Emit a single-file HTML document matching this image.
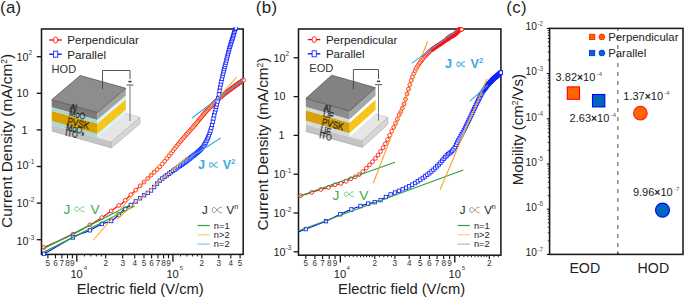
<!DOCTYPE html><html><head><meta charset="utf-8"><style>html,body{margin:0;padding:0;background:#fff;overflow:hidden}svg{display:block;font-family:"Liberation Sans",sans-serif}</style></head><body>
<svg width="685" height="300" viewBox="0 0 685 300" font-family="Liberation Sans, sans-serif">
<rect width="685" height="300" fill="#fff"/>
<defs><clipPath id="ca"><rect x="39.5" y="27" width="206" height="229.5"/></clipPath><clipPath id="cb"><rect x="296.5" y="27" width="206.5" height="230"/></clipPath></defs>
<text x="0" y="12.8" font-size="16.8" letter-spacing="0.35" fill="#231f20">(a)</text>
<text x="255.8" y="12.8" font-size="16.8" letter-spacing="0.35" fill="#231f20">(b)</text>
<text x="506.3" y="12.8" font-size="16.8" letter-spacing="0.35" fill="#231f20">(c)</text>
<rect x="41.5" y="29.0" width="201.7" height="225.4" fill="none" stroke="#1a1a1a" stroke-width="1.55"/>
<g clip-path="url(#ca)">
<polyline points="43.6,247.6 46.0,246.5 49.2,245.1 53.0,243.4 57.3,241.5 61.6,239.5 65.9,237.6 69.7,235.8 73.0,234.2 75.7,232.8 78.2,231.5 80.4,230.3 82.5,229.2 84.4,228.1 86.2,227.0 87.9,226.0 89.6,225.0 91.2,224.1 92.8,223.2 94.2,222.4 95.5,221.6 96.8,220.8 98.0,220.1 99.3,219.3 100.5,218.5 101.7,217.7 103.0,216.9 104.2,216.0 105.3,215.2 106.5,214.4 107.6,213.6 108.7,212.8 109.8,212.0 110.9,211.2 112.0,210.4 113.1,209.6 114.2,208.8 115.2,208.0 116.2,207.3 117.2,206.6 118.0,206.0 118.7,205.5 119.3,205.1 119.9,204.8 120.3,204.5 120.8,204.3 121.3,203.9 121.9,203.5 122.5,203.0 123.2,202.3 124.0,201.6 124.9,200.7 125.7,199.8 126.6,198.9 127.5,197.9 128.4,197.0 129.2,196.2 130.0,195.4 130.9,194.6 131.8,193.7 132.7,192.9 133.5,192.1 134.3,191.4 135.1,190.7 135.8,190.0 136.4,189.4 136.9,189.0 137.3,188.6 137.7,188.2 138.1,187.8 138.6,187.4 139.2,186.8 140.0,186.0 141.0,185.1 142.1,184.0 143.3,182.7 144.6,181.5 146.0,180.1 147.4,178.8 148.7,177.5 150.0,176.2 151.3,175.0 152.6,173.7 153.9,172.4 155.2,171.2 156.5,169.9 157.8,168.7 158.9,167.6 160.0,166.5 160.9,165.6 161.6,164.8 162.2,164.1 162.8,163.5 163.3,162.8 164.0,161.9 164.9,160.9 166.0,159.5 167.4,157.8 168.9,155.9 170.6,153.7 172.4,151.4 174.3,149.0 176.2,146.6 178.1,144.2 180.0,142.0 181.9,139.8 183.8,137.6 185.8,135.3 187.8,133.1 189.7,130.9 191.6,128.7 193.4,126.7 195.0,124.8 196.5,123.0 198.0,121.3 199.3,119.6 200.6,118.0 201.8,116.5 203.0,115.1 204.0,113.8 205.0,112.7 205.9,111.7 206.6,110.9 207.2,110.3 207.8,109.7 208.3,109.2 208.9,108.7 209.4,108.1 210.0,107.5 210.6,106.8 211.1,106.2 211.7,105.6 212.2,105.0 212.8,104.3 213.4,103.6 214.1,102.8 215.0,102.0 216.0,101.1 217.1,100.1 218.4,99.0 219.7,97.9 221.0,96.7 222.4,95.6 223.7,94.5 225.0,93.5 226.3,92.5 227.5,91.5 228.8,90.5 230.1,89.6 231.4,88.7 232.6,87.7 233.8,86.9 235.0,86.0 236.2,85.1 237.4,84.3 238.7,83.4 239.9,82.5 241.0,81.7 242.0,81.0 242.9,80.5 243.5,80.0" fill="none" stroke="#ff0000" stroke-width="1.2"/>
<polyline points="43.6,254.2 46.0,252.8 49.2,251.0 53.0,248.7 57.3,246.2 61.6,243.7 65.9,241.3 69.7,239.1 73.0,237.4 75.7,236.1 78.2,234.9 80.4,234.0 82.4,233.3 84.3,232.6 86.1,231.9 87.8,231.2 89.6,230.4 91.3,229.6 93.0,228.7 94.5,227.8 96.0,227.0 97.5,226.2 98.9,225.4 100.3,224.7 101.7,224.0 103.1,223.5 104.4,223.1 105.7,222.7 107.0,222.4 108.3,222.1 109.5,221.7 110.8,221.2 112.1,220.5 113.4,219.6 114.7,218.5 116.1,217.2 117.4,215.9 118.8,214.6 120.0,213.3 121.3,212.1 122.5,211.0 123.6,210.1 124.8,209.2 125.8,208.4 126.9,207.7 127.9,207.0 128.9,206.3 129.8,205.7 130.8,205.0 131.7,204.3 132.6,203.7 133.5,203.1 134.4,202.5 135.2,201.9 136.1,201.3 136.9,200.6 137.8,200.0 138.7,199.3 139.6,198.6 140.5,197.9 141.5,197.2 142.4,196.5 143.3,195.8 144.2,195.1 145.0,194.5 145.8,194.0 146.5,193.5 147.2,193.2 147.9,192.8 148.6,192.4 149.3,191.9 150.1,191.3 151.0,190.5 152.0,189.5 153.0,188.4 154.1,187.1 155.2,185.7 156.4,184.3 157.6,183.0 158.8,181.7 160.0,180.5 161.2,179.5 162.3,178.5 163.5,177.6 164.6,176.8 165.8,175.9 167.1,175.0 168.5,174.1 170.0,173.0 171.7,171.8 173.6,170.4 175.6,169.0 177.7,167.5 179.8,166.1 181.7,164.7 183.5,163.4 185.0,162.3 186.2,161.4 187.3,160.6 188.1,159.9 188.9,159.3 189.6,158.8 190.2,158.2 190.9,157.6 191.7,157.0 192.5,156.3 193.4,155.6 194.3,155.0 195.2,154.3 196.0,153.6 196.8,152.9 197.6,152.3 198.3,151.7 198.9,151.1 199.5,150.6 200.0,150.1 200.5,149.6 201.0,149.1 201.5,148.7 201.9,148.2 202.3,147.7 202.7,147.2 203.1,146.7 203.4,146.3 203.7,145.8 204.0,145.3 204.4,144.8 204.7,144.3 205.0,143.7 205.3,143.1 205.7,142.4 206.0,141.8 206.4,141.1 206.7,140.4 207.1,139.7 207.4,139.0 207.7,138.3 208.0,137.6 208.2,137.0 208.5,136.4 208.7,135.7 209.0,135.1 209.2,134.4 209.5,133.7 209.7,133.0 209.9,132.3 210.2,131.6 210.4,130.9 210.6,130.2 210.9,129.5 211.1,128.6 211.4,127.5 211.7,126.3 212.1,124.8 212.4,123.1 212.9,121.2 213.3,119.2 213.7,117.2 214.2,115.3 214.6,113.4 215.0,111.7 215.4,110.2 215.7,108.8 216.1,107.5 216.4,106.2 216.7,105.0 217.1,103.7 217.4,102.4 217.7,101.0 218.0,99.5 218.3,97.9 218.6,96.3 218.8,94.7 219.1,93.0 219.4,91.4 219.7,89.7 220.0,88.0 220.3,86.3 220.7,84.5 221.1,82.7 221.5,80.9 221.8,79.1 222.2,77.4 222.6,75.7 223.0,74.0 223.4,72.4 223.8,70.9 224.1,69.4 224.5,67.9 224.9,66.4 225.2,65.0 225.6,63.5 226.0,62.0 226.4,60.5 226.8,59.0 227.1,57.4 227.5,55.9 227.9,54.4 228.2,52.9 228.6,51.4 229.0,50.0 229.4,48.7 229.8,47.4 230.1,46.1 230.5,44.9 230.9,43.7 231.2,42.5 231.6,41.2 232.0,40.0 232.4,38.7 232.8,37.3 233.2,35.9 233.7,34.5 234.1,33.2 234.4,31.9 234.7,30.9 235.0,30.0 235.2,29.4 235.3,28.9 235.4,28.6 235.5,28.4 235.5,28.3 235.5,28.2 235.6,28.1 235.6,28.0" fill="none" stroke="#0a14ff" stroke-width="1.2"/>
<g fill="#fff" stroke="#ff1010" stroke-width="0.85"><circle cx="44.03" cy="247.41" r="1.9"/><circle cx="72.96" cy="234.22" r="1.9"/><circle cx="89.88" cy="224.84" r="1.9"/><circle cx="101.88" cy="217.59" r="1.9"/><circle cx="111.20" cy="210.99" r="1.9"/><circle cx="118.81" cy="205.46" r="1.9"/><circle cx="125.24" cy="200.30" r="1.9"/><circle cx="130.81" cy="194.65" r="1.9"/><circle cx="135.73" cy="190.07" r="1.9"/><circle cx="140.13" cy="185.88" r="1.9"/><circle cx="144.10" cy="181.98" r="1.9"/><circle cx="147.74" cy="178.41" r="1.9"/><circle cx="151.08" cy="175.16" r="1.9"/><circle cx="154.17" cy="172.20" r="1.9"/><circle cx="157.05" cy="169.44" r="1.9"/><circle cx="159.74" cy="166.76" r="1.9"/><circle cx="162.27" cy="164.04" r="1.9"/><circle cx="164.66" cy="161.15" r="1.9"/><circle cx="166.91" cy="158.37" r="1.9"/><circle cx="169.06" cy="155.68" r="1.9"/><circle cx="171.09" cy="153.09" r="1.9"/><circle cx="173.03" cy="150.63" r="1.9"/><circle cx="174.89" cy="148.30" r="1.9"/><circle cx="176.66" cy="146.08" r="1.9"/><circle cx="178.37" cy="143.98" r="1.9"/><circle cx="180.01" cy="141.99" r="1.9"/><circle cx="181.58" cy="140.13" r="1.9"/><circle cx="183.10" cy="138.37" r="1.9"/><circle cx="184.56" cy="136.68" r="1.9"/><circle cx="185.98" cy="135.07" r="1.9"/><circle cx="187.35" cy="133.52" r="1.9"/><circle cx="188.67" cy="132.02" r="1.9"/><circle cx="189.96" cy="130.57" r="1.9"/><circle cx="191.20" cy="129.16" r="1.9"/><circle cx="192.41" cy="127.78" r="1.9"/><circle cx="193.59" cy="126.44" r="1.9"/><circle cx="194.73" cy="125.11" r="1.9"/><circle cx="195.84" cy="123.80" r="1.9"/><circle cx="196.93" cy="122.51" r="1.9"/><circle cx="197.98" cy="121.24" r="1.9"/><circle cx="199.02" cy="119.98" r="1.9"/><circle cx="200.02" cy="118.74" r="1.9"/><circle cx="201.00" cy="117.53" r="1.9"/><circle cx="201.96" cy="116.35" r="1.9"/><circle cx="202.90" cy="115.20" r="1.9"/><circle cx="203.82" cy="114.10" r="1.9"/><circle cx="204.72" cy="113.03" r="1.9"/><circle cx="205.59" cy="112.03" r="1.9"/><circle cx="206.45" cy="111.08" r="1.9"/><circle cx="207.30" cy="110.20" r="1.9"/><circle cx="208.12" cy="109.38" r="1.9"/><circle cx="208.93" cy="108.59" r="1.9"/><circle cx="209.73" cy="107.78" r="1.9"/><circle cx="210.51" cy="106.94" r="1.9"/><circle cx="211.28" cy="106.05" r="1.9"/><circle cx="212.03" cy="105.15" r="1.9"/><circle cx="212.77" cy="104.29" r="1.9"/><circle cx="213.49" cy="103.50" r="1.9"/><circle cx="214.21" cy="102.77" r="1.9"/><circle cx="214.91" cy="102.09" r="1.9"/><circle cx="215.60" cy="101.45" r="1.9"/><circle cx="216.28" cy="100.84" r="1.9"/><circle cx="216.94" cy="100.25" r="1.9"/><circle cx="217.60" cy="99.67" r="1.9"/><circle cx="218.25" cy="99.11" r="1.9"/><circle cx="218.88" cy="98.56" r="1.9"/><circle cx="219.51" cy="98.02" r="1.9"/><circle cx="220.13" cy="97.50" r="1.9"/><circle cx="220.74" cy="96.99" r="1.9"/><circle cx="221.34" cy="96.49" r="1.9"/><circle cx="221.93" cy="96.00" r="1.9"/><circle cx="222.52" cy="95.52" r="1.9"/><circle cx="223.09" cy="95.05" r="1.9"/><circle cx="223.66" cy="94.58" r="1.9"/><circle cx="224.22" cy="94.13" r="1.9"/><circle cx="224.77" cy="93.68" r="1.9"/><circle cx="225.32" cy="93.25" r="1.9"/><circle cx="225.86" cy="92.82" r="1.9"/><circle cx="226.39" cy="92.41" r="1.9"/><circle cx="226.91" cy="92.00" r="1.9"/><circle cx="227.43" cy="91.60" r="1.9"/><circle cx="227.94" cy="91.21" r="1.9"/><circle cx="228.45" cy="90.83" r="1.9"/><circle cx="228.95" cy="90.45" r="1.9"/><circle cx="229.44" cy="90.08" r="1.9"/><circle cx="229.93" cy="89.71" r="1.9"/><circle cx="230.41" cy="89.36" r="1.9"/><circle cx="230.89" cy="89.00" r="1.9"/><circle cx="231.36" cy="88.66" r="1.9"/><circle cx="231.83" cy="88.31" r="1.9"/><circle cx="232.29" cy="87.98" r="1.9"/><circle cx="232.75" cy="87.64" r="1.9"/><circle cx="233.20" cy="87.31" r="1.9"/><circle cx="233.64" cy="86.99" r="1.9"/><circle cx="234.09" cy="86.67" r="1.9"/><circle cx="234.52" cy="86.35" r="1.9"/><circle cx="234.96" cy="86.03" r="1.9"/><circle cx="235.38" cy="85.72" r="1.9"/><circle cx="235.81" cy="85.42" r="1.9"/><circle cx="236.23" cy="85.11" r="1.9"/><circle cx="236.64" cy="84.82" r="1.9"/><circle cx="237.05" cy="84.52" r="1.9"/><circle cx="237.46" cy="84.23" r="1.9"/><circle cx="237.86" cy="83.95" r="1.9"/><circle cx="238.26" cy="83.66" r="1.9"/><circle cx="238.66" cy="83.39" r="1.9"/><circle cx="239.05" cy="83.11" r="1.9"/><circle cx="239.44" cy="82.84" r="1.9"/><circle cx="239.82" cy="82.57" r="1.9"/><circle cx="240.20" cy="82.30" r="1.9"/><circle cx="240.58" cy="82.04" r="1.9"/><circle cx="240.96" cy="81.78" r="1.9"/><circle cx="241.33" cy="81.52" r="1.9"/><circle cx="241.70" cy="81.26" r="1.9"/><circle cx="242.06" cy="81.01" r="1.9"/><circle cx="242.42" cy="80.75" r="1.9"/><circle cx="242.78" cy="80.51" r="1.9"/><circle cx="243.13" cy="80.26" r="1.9"/><circle cx="243.49" cy="80.01" r="1.9"/><circle cx="243.84" cy="80.00" r="1.9"/></g>
<g fill="#fff" stroke="#1020ff" stroke-width="0.85"><rect x="42.38" y="252.20" width="3.3" height="3.5"/><rect x="71.31" y="235.67" width="3.3" height="3.5"/><rect x="88.23" y="228.51" width="3.3" height="3.5"/><rect x="100.23" y="222.18" width="3.3" height="3.5"/><rect x="109.55" y="219.24" width="3.3" height="3.5"/><rect x="117.16" y="212.77" width="3.3" height="3.5"/><rect x="123.59" y="207.12" width="3.3" height="3.5"/><rect x="129.16" y="203.24" width="3.3" height="3.5"/><rect x="134.08" y="199.75" width="3.3" height="3.5"/><rect x="138.48" y="196.48" width="3.3" height="3.5"/><rect x="142.45" y="193.41" width="3.3" height="3.5"/><rect x="146.09" y="191.11" width="3.3" height="3.5"/><rect x="149.43" y="188.67" width="3.3" height="3.5"/><rect x="152.52" y="185.26" width="3.3" height="3.5"/><rect x="155.40" y="181.86" width="3.3" height="3.5"/><rect x="158.09" y="179.00" width="3.3" height="3.5"/><rect x="160.62" y="176.81" width="3.3" height="3.5"/><rect x="163.01" y="175.02" width="3.3" height="3.5"/><rect x="165.26" y="173.44" width="3.3" height="3.5"/><rect x="167.41" y="171.93" width="3.3" height="3.5"/><rect x="169.44" y="170.46" width="3.3" height="3.5"/><rect x="171.38" y="169.07" width="3.3" height="3.5"/><rect x="173.24" y="167.76" width="3.3" height="3.5"/><rect x="175.01" y="166.50" width="3.3" height="3.5"/><rect x="176.72" y="165.29" width="3.3" height="3.5"/><rect x="178.36" y="164.14" width="3.3" height="3.5"/><rect x="179.93" y="163.02" width="3.3" height="3.5"/><rect x="181.45" y="161.93" width="3.3" height="3.5"/><rect x="182.91" y="160.87" width="3.3" height="3.5"/><rect x="184.33" y="159.82" width="3.3" height="3.5"/><rect x="185.70" y="158.78" width="3.3" height="3.5"/><rect x="187.02" y="157.73" width="3.3" height="3.5"/><rect x="188.31" y="156.67" width="3.3" height="3.5"/><rect x="189.55" y="155.65" width="3.3" height="3.5"/><rect x="190.76" y="154.69" width="3.3" height="3.5"/><rect x="191.94" y="153.76" width="3.3" height="3.5"/><rect x="193.08" y="152.86" width="3.3" height="3.5"/><rect x="194.19" y="151.98" width="3.3" height="3.5"/><rect x="195.28" y="151.11" width="3.3" height="3.5"/><rect x="196.33" y="150.22" width="3.3" height="3.5"/><rect x="197.37" y="149.31" width="3.3" height="3.5"/><rect x="198.37" y="148.38" width="3.3" height="3.5"/><rect x="199.35" y="147.40" width="3.3" height="3.5"/><rect x="200.31" y="146.34" width="3.3" height="3.5"/><rect x="201.25" y="145.20" width="3.3" height="3.5"/><rect x="202.17" y="143.90" width="3.3" height="3.5"/><rect x="203.07" y="142.44" width="3.3" height="3.5"/><rect x="203.94" y="140.88" width="3.3" height="3.5"/><rect x="204.80" y="139.21" width="3.3" height="3.5"/><rect x="205.65" y="137.44" width="3.3" height="3.5"/><rect x="206.47" y="135.55" width="3.3" height="3.5"/><rect x="207.28" y="133.46" width="3.3" height="3.5"/><rect x="208.08" y="131.16" width="3.3" height="3.5"/><rect x="208.86" y="128.82" width="3.3" height="3.5"/><rect x="209.63" y="126.19" width="3.3" height="3.5"/><rect x="210.38" y="123.19" width="3.3" height="3.5"/><rect x="211.12" y="119.94" width="3.3" height="3.5"/><rect x="211.84" y="116.66" width="3.3" height="3.5"/><rect x="212.56" y="113.43" width="3.3" height="3.5"/><rect x="213.26" y="110.35" width="3.3" height="3.5"/><rect x="213.95" y="107.56" width="3.3" height="3.5"/><rect x="214.63" y="105.01" width="3.3" height="3.5"/><rect x="215.29" y="102.48" width="3.3" height="3.5"/><rect x="215.95" y="99.70" width="3.3" height="3.5"/><rect x="216.60" y="96.40" width="3.3" height="3.5"/><rect x="217.23" y="92.63" width="3.3" height="3.5"/><rect x="217.86" y="88.90" width="3.3" height="3.5"/><rect x="218.48" y="85.59" width="3.3" height="3.5"/><rect x="219.09" y="82.59" width="3.3" height="3.5"/><rect x="219.69" y="79.73" width="3.3" height="3.5"/><rect x="220.28" y="77.00" width="3.3" height="3.5"/><rect x="220.87" y="74.37" width="3.3" height="3.5"/><rect x="221.44" y="71.86" width="3.3" height="3.5"/><rect x="222.01" y="69.48" width="3.3" height="3.5"/><rect x="222.57" y="67.23" width="3.3" height="3.5"/><rect x="223.12" y="65.06" width="3.3" height="3.5"/><rect x="223.67" y="62.94" width="3.3" height="3.5"/><rect x="224.21" y="60.82" width="3.3" height="3.5"/><rect x="224.74" y="58.68" width="3.3" height="3.5"/><rect x="225.26" y="56.53" width="3.3" height="3.5"/><rect x="225.78" y="54.40" width="3.3" height="3.5"/><rect x="226.29" y="52.33" width="3.3" height="3.5"/><rect x="226.80" y="50.33" width="3.3" height="3.5"/><rect x="227.30" y="48.44" width="3.3" height="3.5"/><rect x="227.79" y="46.67" width="3.3" height="3.5"/><rect x="228.28" y="45.00" width="3.3" height="3.5"/><rect x="228.76" y="43.41" width="3.3" height="3.5"/><rect x="229.24" y="41.86" width="3.3" height="3.5"/><rect x="229.71" y="40.34" width="3.3" height="3.5"/><rect x="230.18" y="38.81" width="3.3" height="3.5"/><rect x="230.64" y="37.28" width="3.3" height="3.5"/><rect x="231.10" y="35.76" width="3.3" height="3.5"/><rect x="231.55" y="34.26" width="3.3" height="3.5"/><rect x="231.99" y="32.77" width="3.3" height="3.5"/><rect x="232.44" y="31.30" width="3.3" height="3.5"/><rect x="232.87" y="29.84" width="3.3" height="3.5"/><rect x="233.31" y="28.40" width="3.3" height="3.5"/><rect x="233.73" y="26.97" width="3.3" height="3.5"/><rect x="234.16" y="26.25" width="3.3" height="3.5"/></g>
<line x1="43.4" y1="248.6" x2="130" y2="205" stroke="#2ea043" stroke-width="1.2"/>
<line x1="43.4" y1="252.4" x2="134.6" y2="206" stroke="#2ea043" stroke-width="1.2"/>
<line x1="93.3" y1="240" x2="236.7" y2="77" stroke="#f5a623" stroke-width="1.1"/>
<line x1="117" y1="219" x2="187" y2="157" stroke="#f5a623" stroke-width="1.1"/>
<line x1="192" y1="118" x2="244" y2="79" stroke="#3ba9e0" stroke-width="1.1"/>
<line x1="178" y1="165.3" x2="220.7" y2="138" stroke="#3ba9e0" stroke-width="1.1"/>
</g>
<text x="63.4" y="214.4" font-size="13.7" fill="#3cae50">J</text>
<path d="M84.40,206.89 C82.00,206.71 81.00,207.83 79.60,209.20 C78.20,210.57 77.40,211.60 76.20,211.34 C75.00,211.09 74.80,209.89 74.80,209.20 C74.80,208.51 75.00,207.31 76.20,207.06 C77.40,206.80 78.20,207.83 79.60,209.20 C81.00,210.57 82.00,211.69 84.40,211.51" fill="none" stroke="#3cae50" stroke-width="0.9" opacity="0.7"/>
<text x="90.4" y="214.4" font-size="13.7" fill="#3cae50">V</text>
<text x="197.9" y="168.8" font-size="12.6" fill="#3ba9e0" font-weight="bold">J</text>
<path d="M217.80,162.39 C215.75,162.21 214.90,163.41 213.70,164.90 C212.50,166.39 211.82,167.50 210.80,167.22 C209.77,166.94 209.60,165.64 209.60,164.90 C209.60,164.16 209.77,162.86 210.80,162.58 C211.82,162.30 212.50,163.41 213.70,164.90 C214.90,166.39 215.75,167.59 217.80,167.41" fill="none" stroke="#3ba9e0" stroke-width="1.2" opacity="0.85"/>
<text x="222.7" y="168.8" font-size="12.6" fill="#3ba9e0" font-weight="bold">V<tspan font-size="7.8" dy="-5.0">2</tspan></text>
<line x1="49.2" y1="40" x2="61.7" y2="40" stroke="#ff0000" stroke-width="1.3"/>
<ellipse cx="55.6" cy="40" rx="2.1" ry="3.0" fill="#fff" stroke="#ff1010" stroke-width="0.9"/>
<text x="67.30000000000001" y="44.3" font-size="11.6" fill="#222">Perpendicular</text>
<line x1="49.2" y1="54.2" x2="61.7" y2="54.2" stroke="#0000ff" stroke-width="1.3"/>
<rect x="53.5" y="51.2" width="4.2" height="6.0" fill="#fff" stroke="#1030ff" stroke-width="0.9"/>
<text x="67.30000000000001" y="58.5" font-size="11.6" fill="#222">Parallel</text>
<text x="51.6" y="73.2" font-size="11.1" fill="#333">HOD</text>
<polygon points="51.7,124.8 111.4,141.6 139.9,117.4 80.2,100.6" fill="#e6e6e6" />
<polygon points="51.7,124.8 111.4,141.6 111.4,147.9 51.7,131.1" fill="#c4c4c4" />
<polygon points="111.4,141.6 139.9,117.4 139.9,123.7 111.4,147.9" fill="#d6d6d6" />
<polyline points="51.7,131.1 111.4,147.9 139.9,123.7 139.9,117.4 111.4,141.6 111.4,147.9" fill="none" stroke="#9a9a9a" stroke-width="0.5"/>
<polyline points="125.8,113.4 139.9,117.4" fill="none" stroke="#a8a8a8" stroke-width="0.5"/>
<polygon points="51.7,99.7 97.3,112.5 97.3,120.0 51.7,107.2" fill="#7b7b7b" />
<polygon points="97.3,112.5 125.8,88.3 125.8,95.8 97.3,120.0" fill="#a3a3a3" />
<polygon points="51.7,107.2 97.3,120.0 97.3,123.7 51.7,110.9" fill="#a9d7db" />
<polygon points="97.3,120.0 125.8,95.8 125.8,99.5 97.3,123.7" fill="#d4f6f6" />
<polygon points="51.7,110.9 97.3,123.7 97.3,133.9 51.7,121.1" fill="#d7a100" />
<polygon points="97.3,123.7 125.8,99.5 125.8,109.7 97.3,133.9" fill="#f7c51c" />
<polygon points="51.7,121.1 97.3,133.9 97.3,137.6 51.7,124.8" fill="#a9d7db" />
<polygon points="97.3,133.9 125.8,109.7 125.8,113.4 97.3,137.6" fill="#d4f6f6" />
<polygon points="51.7,99.7 97.3,112.5 125.8,88.3 80.2,75.5" fill="#8d8d8d" />
<polyline points="125.8,88.3 80.2,75.5 51.7,99.7 97.3,112.5 125.8,88.3" fill="none" stroke="#4a4a4a" stroke-width="0.7" stroke-linejoin="round"/>
<polyline points="102.5,89.2 102.5,70.5 130,70.5 130,79.2" fill="none" stroke="#444" stroke-width="0.9"/>
<line x1="128.4" y1="81.6" x2="131.6" y2="81.6" stroke="#333" stroke-width="1.5"/>
<line x1="126.5" y1="85.0" x2="133.5" y2="85.0" stroke="#444" stroke-width="0.9"/>
<line x1="130" y1="85.0" x2="130" y2="121" stroke="#777" stroke-width="1"/>
<text transform="matrix(0.84,0.21,-0.16,1,70.0,109.6)" font-size="8.6" fill="none" stroke="#1a1a1a" stroke-width="0.5">Al</text>
<text transform="matrix(0.84,0.21,-0.16,1,68.8,115.6)" font-size="8.8" fill="none" stroke="#1a1a1a" stroke-width="0.5">MoO</text>
<text transform="matrix(0.84,0.21,-0.16,1,67.0,124.0)" font-size="9.6" fill="none" stroke="#1a1a1a" stroke-width="0.5">PVSK</text>
<text transform="matrix(0.84,0.21,-0.16,1,65.8,129.6)" font-size="8.8" fill="none" stroke="#1a1a1a" stroke-width="0.5">MoO<tspan font-size="5" dy="1.5">x</tspan></text>
<text transform="matrix(0.84,0.21,-0.16,1,65.0,135.2)" font-size="8.8" fill="none" stroke="#1a1a1a" stroke-width="0.5">ITO</text>
<text x="202" y="214" font-size="11.5" fill="#222">J</text>
<path d="M221.80,207.30 C219.40,207.10 218.40,208.40 217.00,210.00 C215.60,211.60 214.80,212.80 213.60,212.50 C212.40,212.20 212.20,210.80 212.20,210.00 C212.20,209.20 212.40,207.80 213.60,207.50 C214.80,207.20 215.60,208.40 217.00,210.00 C218.40,211.60 219.40,212.90 221.80,212.70" fill="none" stroke="#555" stroke-width="0.8" opacity="0.75"/>
<text x="226.5" y="214" font-size="11.5" fill="#222">V<tspan font-size="7.2" dy="-4.6">n</tspan></text>
<line x1="197.5" y1="225.5" x2="209.7" y2="225.5" stroke="#2ea043" stroke-width="1.2"/>
<text x="213.8" y="228.8" font-size="9.3" fill="#222">n=1</text>
<line x1="197.5" y1="234.8" x2="209.7" y2="234.8" stroke="#f7cf8a" stroke-width="1.2"/>
<text x="213.8" y="238.1" font-size="9.3" fill="#222">n&gt;2</text>
<line x1="197.5" y1="244.1" x2="209.7" y2="244.1" stroke="#86c5ee" stroke-width="1.2"/>
<text x="213.8" y="247.4" font-size="9.3" fill="#222">n=2</text>
<line x1="47.9" y1="254.5" x2="47.9" y2="258.4" stroke="#111" stroke-width="1.1"/>
<text x="47.9" y="265.8" font-size="8.2" fill="#333" text-anchor="middle">5</text>
<line x1="55.5" y1="254.5" x2="55.5" y2="258.4" stroke="#111" stroke-width="1.1"/>
<text x="55.5" y="265.8" font-size="8.2" fill="#333" text-anchor="middle">6</text>
<line x1="61.9" y1="254.5" x2="61.9" y2="258.4" stroke="#111" stroke-width="1.1"/>
<text x="61.9" y="265.8" font-size="8.2" fill="#333" text-anchor="middle">7</text>
<line x1="67.5" y1="254.5" x2="67.5" y2="258.4" stroke="#111" stroke-width="1.1"/>
<text x="67.5" y="265.8" font-size="8.2" fill="#333" text-anchor="middle">8</text>
<line x1="72.4" y1="254.5" x2="72.4" y2="258.4" stroke="#111" stroke-width="1.1"/>
<text x="72.4" y="265.8" font-size="8.2" fill="#333" text-anchor="middle">9</text>
<line x1="76.8" y1="254.5" x2="76.8" y2="261.8" stroke="#111" stroke-width="1.3"/>
<line x1="105.7" y1="254.5" x2="105.7" y2="258.4" stroke="#111" stroke-width="1.1"/>
<text x="105.7" y="265.8" font-size="8.2" fill="#333" text-anchor="middle">2</text>
<line x1="122.7" y1="254.5" x2="122.7" y2="258.4" stroke="#111" stroke-width="1.1"/>
<text x="122.7" y="265.8" font-size="8.2" fill="#333" text-anchor="middle">3</text>
<line x1="134.7" y1="254.5" x2="134.7" y2="258.4" stroke="#111" stroke-width="1.1"/>
<text x="134.7" y="265.8" font-size="8.2" fill="#333" text-anchor="middle">4</text>
<line x1="144.0" y1="254.5" x2="144.0" y2="258.4" stroke="#111" stroke-width="1.1"/>
<text x="144.0" y="265.8" font-size="8.2" fill="#333" text-anchor="middle">5</text>
<line x1="151.6" y1="254.5" x2="151.6" y2="258.4" stroke="#111" stroke-width="1.1"/>
<text x="151.6" y="265.8" font-size="8.2" fill="#333" text-anchor="middle">6</text>
<line x1="158.0" y1="254.5" x2="158.0" y2="258.4" stroke="#111" stroke-width="1.1"/>
<text x="158.0" y="265.8" font-size="8.2" fill="#333" text-anchor="middle">7</text>
<line x1="163.6" y1="254.5" x2="163.6" y2="258.4" stroke="#111" stroke-width="1.1"/>
<text x="163.6" y="265.8" font-size="8.2" fill="#333" text-anchor="middle">8</text>
<line x1="168.5" y1="254.5" x2="168.5" y2="258.4" stroke="#111" stroke-width="1.1"/>
<text x="168.5" y="265.8" font-size="8.2" fill="#333" text-anchor="middle">9</text>
<line x1="84.4" y1="254.5" x2="84.4" y2="256.5" stroke="#111" stroke-width="0.9"/>
<line x1="90.8" y1="254.5" x2="90.8" y2="256.5" stroke="#111" stroke-width="0.9"/>
<line x1="96.4" y1="254.5" x2="96.4" y2="256.5" stroke="#111" stroke-width="0.9"/>
<line x1="101.3" y1="254.5" x2="101.3" y2="256.5" stroke="#111" stroke-width="0.9"/>
<line x1="172.9" y1="254.5" x2="172.9" y2="261.8" stroke="#111" stroke-width="1.3"/>
<line x1="201.8" y1="254.5" x2="201.8" y2="258.4" stroke="#111" stroke-width="1.1"/>
<text x="201.8" y="265.8" font-size="8.2" fill="#333" text-anchor="middle">2</text>
<line x1="218.8" y1="254.5" x2="218.8" y2="258.4" stroke="#111" stroke-width="1.1"/>
<text x="218.8" y="265.8" font-size="8.2" fill="#333" text-anchor="middle">3</text>
<line x1="230.8" y1="254.5" x2="230.8" y2="258.4" stroke="#111" stroke-width="1.1"/>
<text x="230.8" y="265.8" font-size="8.2" fill="#333" text-anchor="middle">4</text>
<line x1="240.1" y1="254.5" x2="240.1" y2="258.4" stroke="#111" stroke-width="1.1"/>
<text x="240.1" y="265.8" font-size="8.2" fill="#333" text-anchor="middle">5</text>
<line x1="180.5" y1="254.5" x2="180.5" y2="256.5" stroke="#111" stroke-width="0.9"/>
<line x1="186.9" y1="254.5" x2="186.9" y2="256.5" stroke="#111" stroke-width="0.9"/>
<line x1="192.5" y1="254.5" x2="192.5" y2="256.5" stroke="#111" stroke-width="0.9"/>
<line x1="197.4" y1="254.5" x2="197.4" y2="256.5" stroke="#111" stroke-width="0.9"/>
<line x1="36.8" y1="239.7" x2="41.5" y2="239.7" stroke="#111" stroke-width="1.3"/>
<line x1="36.8" y1="203.1" x2="41.5" y2="203.1" stroke="#111" stroke-width="1.3"/>
<line x1="36.8" y1="166.5" x2="41.5" y2="166.5" stroke="#111" stroke-width="1.3"/>
<line x1="36.8" y1="129.9" x2="41.5" y2="129.9" stroke="#111" stroke-width="1.3"/>
<line x1="36.8" y1="93.3" x2="41.5" y2="93.3" stroke="#111" stroke-width="1.3"/>
<line x1="36.8" y1="56.7" x2="41.5" y2="56.7" stroke="#111" stroke-width="1.3"/>
<text x="16.4" y="60.5" font-size="10.8" fill="#222">10</text><text x="28.6" y="55.3" font-size="6.6" fill="#444">2</text>
<text x="16.4" y="97.1" font-size="10.8" fill="#222">10</text>
<text x="21.4" y="133.7" font-size="10.8" fill="#222">1</text>
<text x="16.4" y="169.1" font-size="10.8" fill="#222">10</text><text x="28.6" y="163.9" font-size="6.6" fill="#444">&#8208;1</text>
<text x="16.4" y="206.9" font-size="10.8" fill="#222">10</text><text x="28.6" y="201.7" font-size="6.6" fill="#444">&#8208;2</text>
<text x="16.4" y="245.1" font-size="10.8" fill="#222">10</text><text x="28.6" y="239.9" font-size="6.6" fill="#444">&#8208;3</text>
<text x="70.4" y="277.6" font-size="11.2" fill="#222">10</text><text x="83.8" y="270.4" font-size="6.1" fill="#444">4</text>
<text x="166.4" y="277.6" font-size="11.2" fill="#222">10</text><text x="179.8" y="270.4" font-size="6.1" fill="#444">5</text>
<text x="76.7" y="294.2" font-size="14.75" fill="#222">Electric field (V/cm)</text>
<text transform="translate(12.4,227.9) rotate(-90)" font-size="15.4" fill="#222">Current Density (mA/cm<tspan font-size="8.3" dy="-5.6">2</tspan><tspan dy="5.6">)</tspan></text>
<rect x="298.5" y="29.0" width="202.39999999999998" height="226.2" fill="none" stroke="#1a1a1a" stroke-width="1.55"/>
<g clip-path="url(#cb)">
<polyline points="298.5,196.3 299.5,196.0 300.8,195.6 302.4,195.2 304.2,194.6 306.0,194.1 307.8,193.6 309.5,193.1 311.0,192.6 312.3,192.2 313.6,191.8 314.8,191.4 316.0,191.0 317.1,190.6 318.2,190.3 319.3,189.9 320.4,189.6 321.4,189.3 322.5,189.0 323.4,188.8 324.4,188.6 325.3,188.3 326.2,188.1 327.1,187.9 328.0,187.6 328.9,187.3 329.7,187.0 330.5,186.6 331.3,186.3 332.1,185.9 332.9,185.6 333.6,185.3 334.4,185.0 335.2,184.8 335.9,184.6 336.7,184.4 337.5,184.3 338.2,184.1 339.0,184.0 339.7,183.8 340.4,183.6 341.1,183.4 341.8,183.2 342.4,182.9 343.1,182.7 343.7,182.4 344.3,182.2 345.0,181.9 345.6,181.6 346.2,181.3 346.8,181.0 347.4,180.6 348.0,180.3 348.6,180.0 349.2,179.6 349.8,179.3 350.4,179.0 351.0,178.7 351.5,178.5 352.1,178.3 352.6,178.1 353.2,177.9 353.7,177.6 354.3,177.3 355.0,177.0 355.7,176.6 356.3,176.3 357.0,175.9 357.7,175.5 358.5,175.1 359.3,174.5 360.2,173.8 361.2,173.0 362.3,172.0 363.6,170.8 364.9,169.5 366.4,168.1 367.8,166.7 369.2,165.3 370.5,163.9 371.7,162.6 372.8,161.4 373.9,160.2 374.9,159.0 375.8,157.8 376.8,156.7 377.7,155.5 378.5,154.4 379.4,153.2 380.2,152.0 381.0,150.9 381.7,149.8 382.5,148.7 383.2,147.6 383.9,146.4 384.6,145.2 385.3,143.9 386.0,142.5 386.8,141.1 387.6,139.6 388.3,138.1 389.1,136.5 389.8,135.0 390.5,133.6 391.2,132.2 391.8,130.9 392.5,129.7 393.1,128.5 393.7,127.3 394.2,126.2 394.8,125.1 395.3,124.0 395.8,122.9 396.3,121.8 396.8,120.7 397.2,119.6 397.6,118.5 398.1,117.5 398.4,116.5 398.8,115.6 399.2,114.7 399.5,114.0 399.9,113.3 400.2,112.8 400.4,112.3 400.7,111.8 401.0,111.3 401.3,110.7 401.6,110.0 401.9,109.2 402.3,108.4 402.6,107.6 403.0,106.7 403.3,105.8 403.7,104.8 404.1,103.7 404.5,102.5 404.9,101.2 405.4,99.7 405.8,98.2 406.3,96.6 406.7,94.9 407.2,93.2 407.7,91.6 408.2,90.0 408.7,88.4 409.2,86.8 409.7,85.2 410.2,83.6 410.7,82.0 411.3,80.4 411.8,78.9 412.3,77.5 412.8,76.2 413.3,74.9 413.8,73.6 414.3,72.4 414.9,71.3 415.4,70.2 415.9,69.1 416.5,68.0 417.1,67.0 417.6,66.0 418.2,65.1 418.8,64.2 419.4,63.3 420.1,62.4 420.8,61.4 421.5,60.5 422.3,59.5 423.1,58.5 424.0,57.4 424.9,56.3 425.8,55.3 426.7,54.3 427.6,53.4 428.5,52.5 429.3,51.7 430.1,51.0 431.0,50.4 431.8,49.8 432.5,49.2 433.4,48.7 434.2,48.1 435.0,47.5 435.8,46.9 436.7,46.3 437.5,45.8 438.4,45.2 439.3,44.6 440.2,44.0 441.1,43.4 442.0,42.8 443.0,42.1 444.0,41.4 445.1,40.6 446.1,39.8 447.2,39.0 448.2,38.3 449.1,37.6 450.0,37.0 450.8,36.5 451.5,36.1 452.1,35.7 452.7,35.4 453.3,35.1 453.9,34.8 454.4,34.4 455.0,34.0 455.6,33.5 456.3,32.9 456.9,32.2 457.6,31.6 458.2,30.9 458.7,30.3 459.2,29.9 459.5,29.5" fill="none" stroke="#ff0000" stroke-width="1.2"/>
<polyline points="298.5,231.8 299.0,231.6 299.5,231.4 300.1,231.2 300.8,230.9 301.7,230.6 302.8,230.2 304.1,229.7 305.7,229.1 307.6,228.4 310.0,227.5 312.6,226.5 315.3,225.4 318.2,224.3 320.9,223.2 323.6,222.2 325.9,221.2 328.0,220.3 330.0,219.3 331.9,218.4 333.7,217.5 335.4,216.6 337.1,215.8 338.8,215.0 340.4,214.2 342.0,213.5 343.5,212.8 345.0,212.1 346.4,211.5 347.8,210.9 349.2,210.4 350.5,209.8 351.8,209.3 353.1,208.8 354.3,208.3 355.5,207.8 356.7,207.4 357.9,207.0 359.0,206.6 360.1,206.2 361.1,205.8 362.1,205.5 363.1,205.1 364.0,204.8 364.9,204.6 365.7,204.3 366.6,204.1 367.4,203.8 368.3,203.6 369.2,203.4 370.0,203.2 370.8,203.0 371.7,202.8 372.5,202.7 373.3,202.5 374.1,202.3 374.9,202.1 375.7,201.9 376.5,201.6 377.3,201.4 378.1,201.1 378.9,200.8 379.7,200.5 380.4,200.2 381.1,199.9 381.8,199.6 382.4,199.2 383.0,198.9 383.6,198.5 384.2,198.1 384.7,197.7 385.3,197.4 385.9,197.0 386.5,196.7 387.1,196.3 387.7,196.0 388.3,195.7 388.9,195.3 389.5,195.0 390.1,194.7 390.7,194.4 391.2,194.1 391.7,193.9 392.1,193.8 392.6,193.6 393.1,193.4 393.8,193.1 394.6,192.7 395.8,192.2 397.3,191.6 399.0,190.8 400.9,190.0 403.0,189.1 405.2,188.2 407.4,187.2 409.6,186.1 411.7,185.0 413.8,183.8 416.0,182.5 418.2,181.1 420.4,179.6 422.5,178.1 424.6,176.7 426.5,175.3 428.3,174.0 429.9,172.8 431.3,171.6 432.6,170.5 433.8,169.4 435.0,168.3 436.1,167.2 437.2,166.1 438.3,165.0 439.4,163.8 440.6,162.6 441.7,161.3 442.7,160.0 443.8,158.8 444.8,157.6 445.8,156.5 446.7,155.5 447.6,154.7 448.4,154.0 449.2,153.4 449.9,152.9 450.7,152.4 451.4,151.8 452.1,151.1 452.8,150.3 453.5,149.3 454.2,148.3 454.8,147.1 455.5,145.9 456.1,144.6 456.7,143.4 457.4,142.2 458.0,141.0 458.6,139.9 459.3,138.7 459.9,137.6 460.5,136.5 461.2,135.4 461.8,134.2 462.4,133.1 463.0,132.0 463.6,130.9 464.2,129.8 464.7,128.6 465.3,127.5 465.8,126.4 466.4,125.3 466.9,124.1 467.5,123.0 468.1,121.8 468.6,120.7 469.2,119.5 469.8,118.3 470.3,117.1 470.9,115.9 471.4,114.7 472.0,113.5 472.6,112.3 473.1,111.1 473.7,109.9 474.2,108.7 474.8,107.5 475.4,106.3 475.9,105.2 476.5,104.0 477.1,102.8 477.6,101.6 478.2,100.5 478.8,99.3 479.4,98.1 479.9,97.0 480.5,96.0 481.0,95.0 481.5,94.1 481.9,93.3 482.3,92.6 482.7,91.9 483.1,91.2 483.6,90.5 484.2,89.7 484.8,88.8 485.6,87.8 486.4,86.8 487.3,85.6 488.2,84.5 489.2,83.3 490.3,82.2 491.3,81.1 492.3,80.0 493.4,78.9 494.6,77.9 495.9,76.8 497.1,75.7 498.3,74.7 499.4,73.8 500.3,73.1 501.0,72.5" fill="none" stroke="#0a14ff" stroke-width="1.2"/>
<g fill="#fff" stroke="#ff1010" stroke-width="0.85"><circle cx="300.59" cy="195.69" r="1.9"/><circle cx="311.69" cy="192.39" r="1.9"/><circle cx="320.76" cy="189.50" r="1.9"/><circle cx="328.42" cy="187.45" r="1.9"/><circle cx="335.06" cy="184.81" r="1.9"/><circle cx="340.92" cy="183.44" r="1.9"/><circle cx="346.16" cy="181.33" r="1.9"/><circle cx="350.90" cy="178.77" r="1.9"/><circle cx="355.22" cy="176.88" r="1.9"/><circle cx="359.20" cy="174.57" r="1.9"/><circle cx="362.89" cy="171.48" r="1.9"/><circle cx="366.32" cy="168.17" r="1.9"/><circle cx="369.53" cy="164.91" r="1.9"/><circle cx="372.54" cy="161.67" r="1.9"/><circle cx="375.39" cy="158.38" r="1.9"/><circle cx="378.07" cy="154.98" r="1.9"/><circle cx="380.62" cy="151.47" r="1.9"/><circle cx="383.05" cy="147.75" r="1.9"/><circle cx="385.36" cy="143.78" r="1.9"/><circle cx="387.57" cy="139.57" r="1.9"/><circle cx="389.69" cy="135.27" r="1.9"/><circle cx="391.72" cy="131.16" r="1.9"/><circle cx="393.67" cy="127.30" r="1.9"/><circle cx="395.55" cy="123.44" r="1.9"/><circle cx="397.36" cy="119.22" r="1.9"/><circle cx="399.10" cy="114.93" r="1.9"/><circle cx="400.79" cy="111.66" r="1.9"/><circle cx="402.42" cy="108.09" r="1.9"/><circle cx="404.00" cy="103.98" r="1.9"/><circle cx="405.53" cy="99.15" r="1.9"/><circle cx="407.01" cy="93.99" r="1.9"/><circle cx="408.45" cy="89.19" r="1.9"/><circle cx="409.85" cy="84.71" r="1.9"/><circle cx="411.22" cy="80.54" r="1.9"/><circle cx="412.54" cy="76.87" r="1.9"/><circle cx="413.83" cy="73.63" r="1.9"/><circle cx="415.09" cy="70.80" r="1.9"/><circle cx="416.32" cy="68.34" r="1.9"/><circle cx="417.52" cy="66.21" r="1.9"/><circle cx="418.69" cy="64.36" r="1.9"/><circle cx="419.83" cy="62.72" r="1.9"/><circle cx="420.95" cy="61.22" r="1.9"/><circle cx="422.04" cy="59.81" r="1.9"/><circle cx="423.11" cy="58.48" r="1.9"/><circle cx="424.16" cy="57.22" r="1.9"/><circle cx="425.18" cy="56.03" r="1.9"/><circle cx="426.19" cy="54.90" r="1.9"/><circle cx="427.17" cy="53.84" r="1.9"/><circle cx="428.14" cy="52.86" r="1.9"/><circle cx="429.09" cy="51.96" r="1.9"/><circle cx="430.02" cy="51.15" r="1.9"/><circle cx="430.93" cy="50.41" r="1.9"/><circle cx="431.82" cy="49.74" r="1.9"/><circle cx="432.70" cy="49.11" r="1.9"/><circle cx="433.57" cy="48.51" r="1.9"/><circle cx="434.42" cy="47.91" r="1.9"/><circle cx="435.26" cy="47.32" r="1.9"/><circle cx="436.08" cy="46.75" r="1.9"/><circle cx="436.89" cy="46.20" r="1.9"/><circle cx="437.68" cy="45.67" r="1.9"/><circle cx="438.46" cy="45.16" r="1.9"/><circle cx="439.24" cy="44.66" r="1.9"/><circle cx="439.99" cy="44.16" r="1.9"/><circle cx="440.74" cy="43.66" r="1.9"/><circle cx="441.48" cy="43.16" r="1.9"/><circle cx="442.21" cy="42.65" r="1.9"/><circle cx="442.92" cy="42.15" r="1.9"/><circle cx="443.63" cy="41.63" r="1.9"/><circle cx="444.32" cy="41.13" r="1.9"/><circle cx="445.01" cy="40.62" r="1.9"/><circle cx="445.68" cy="40.12" r="1.9"/><circle cx="446.35" cy="39.63" r="1.9"/><circle cx="447.01" cy="39.14" r="1.9"/><circle cx="447.66" cy="38.66" r="1.9"/><circle cx="448.30" cy="38.20" r="1.9"/><circle cx="448.94" cy="37.74" r="1.9"/><circle cx="449.56" cy="37.30" r="1.9"/><circle cx="450.18" cy="36.88" r="1.9"/><circle cx="450.79" cy="36.49" r="1.9"/><circle cx="451.39" cy="36.14" r="1.9"/><circle cx="451.99" cy="35.81" r="1.9"/><circle cx="452.58" cy="35.49" r="1.9"/><circle cx="453.16" cy="35.18" r="1.9"/><circle cx="453.73" cy="34.86" r="1.9"/><circle cx="454.30" cy="34.50" r="1.9"/><circle cx="454.86" cy="34.10" r="1.9"/><circle cx="455.42" cy="33.65" r="1.9"/><circle cx="455.97" cy="33.15" r="1.9"/><circle cx="456.51" cy="32.63" r="1.9"/><circle cx="457.05" cy="32.09" r="1.9"/><circle cx="457.58" cy="31.54" r="1.9"/><circle cx="458.11" cy="30.99" r="1.9"/><circle cx="458.63" cy="30.43" r="1.9"/><circle cx="459.14" cy="29.87" r="1.9"/><circle cx="459.65" cy="29.50" r="1.9"/><circle cx="460.16" cy="29.50" r="1.9"/><circle cx="460.66" cy="29.50" r="1.9"/><circle cx="461.15" cy="29.50" r="1.9"/><circle cx="461.64" cy="29.50" r="1.9"/></g>
<polyline points="432.5,49.2 433.4,48.7 434.2,48.1 435.0,47.5 435.8,46.9 436.7,46.3 437.5,45.8 438.4,45.2 439.3,44.6 440.2,44.0 441.1,43.4 442.0,42.8 443.0,42.1 444.0,41.4 445.1,40.6 446.1,39.8 447.2,39.0 448.2,38.3 449.1,37.6 450.0,37.0 450.8,36.5 451.5,36.1 452.1,35.7 452.7,35.4 453.3,35.1 453.9,34.8 454.4,34.4 455.0,34.0 455.6,33.5 456.3,32.9 456.9,32.2 457.6,31.6 458.2,30.9 458.7,30.3 459.2,29.9 459.5,29.5" fill="none" stroke="#ff1010" stroke-width="4.2" stroke-linecap="round"/>
<polyline points="448.2,38.3 449.1,37.6 450.0,37.0 450.8,36.5 451.5,36.1 452.1,35.7 452.7,35.4 453.3,35.1 453.9,34.8 454.4,34.4 455.0,34.0 455.6,33.5 456.3,32.9 456.9,32.2 457.6,31.6 458.2,30.9 458.7,30.3 459.2,29.9 459.5,29.5" fill="none" stroke="#ff1010" stroke-width="5.4" stroke-linecap="round"/>
<g fill="#fff" stroke="#ff1010" stroke-width="0.85"><circle cx="461.64" cy="29.50" r="1.9"/></g>
<g fill="#fff" stroke="#1020ff" stroke-width="0.85"><rect x="304.18" y="227.30" width="3.3" height="3.5"/><rect x="324.34" y="219.41" width="3.3" height="3.5"/><rect x="338.65" y="212.50" width="3.3" height="3.5"/><rect x="349.75" y="207.71" width="3.3" height="3.5"/><rect x="358.81" y="204.27" width="3.3" height="3.5"/><rect x="366.48" y="201.90" width="3.3" height="3.5"/><rect x="373.12" y="200.39" width="3.3" height="3.5"/><rect x="378.97" y="198.36" width="3.3" height="3.5"/><rect x="384.21" y="195.27" width="3.3" height="3.5"/><rect x="388.95" y="192.70" width="3.3" height="3.5"/><rect x="393.28" y="190.83" width="3.3" height="3.5"/><rect x="397.26" y="189.13" width="3.3" height="3.5"/><rect x="400.95" y="187.58" width="3.3" height="3.5"/><rect x="404.38" y="186.07" width="3.3" height="3.5"/><rect x="407.59" y="184.55" width="3.3" height="3.5"/><rect x="410.60" y="182.93" width="3.3" height="3.5"/><rect x="413.44" y="181.25" width="3.3" height="3.5"/><rect x="416.13" y="179.56" width="3.3" height="3.5"/><rect x="418.68" y="177.89" width="3.3" height="3.5"/><rect x="421.11" y="176.23" width="3.3" height="3.5"/><rect x="423.42" y="174.61" width="3.3" height="3.5"/><rect x="425.63" y="173.00" width="3.3" height="3.5"/><rect x="427.75" y="171.40" width="3.3" height="3.5"/><rect x="429.78" y="169.76" width="3.3" height="3.5"/><rect x="431.73" y="168.05" width="3.3" height="3.5"/><rect x="433.61" y="166.28" width="3.3" height="3.5"/><rect x="435.41" y="164.49" width="3.3" height="3.5"/><rect x="437.16" y="162.72" width="3.3" height="3.5"/><rect x="438.84" y="160.89" width="3.3" height="3.5"/><rect x="440.48" y="158.99" width="3.3" height="3.5"/><rect x="442.05" y="157.12" width="3.3" height="3.5"/><rect x="443.58" y="155.34" width="3.3" height="3.5"/><rect x="445.07" y="153.73" width="3.3" height="3.5"/><rect x="446.51" y="152.45" width="3.3" height="3.5"/><rect x="447.91" y="151.41" width="3.3" height="3.5"/><rect x="449.27" y="150.42" width="3.3" height="3.5"/><rect x="450.60" y="149.19" width="3.3" height="3.5"/><rect x="451.89" y="147.51" width="3.3" height="3.5"/><rect x="453.15" y="145.39" width="3.3" height="3.5"/><rect x="454.38" y="143.04" width="3.3" height="3.5"/><rect x="455.58" y="140.70" width="3.3" height="3.5"/><rect x="456.75" y="138.54" width="3.3" height="3.5"/><rect x="457.89" y="136.51" width="3.3" height="3.5"/><rect x="459.01" y="134.53" width="3.3" height="3.5"/><rect x="460.10" y="132.57" width="3.3" height="3.5"/><rect x="461.17" y="130.59" width="3.3" height="3.5"/><rect x="462.22" y="128.58" width="3.3" height="3.5"/><rect x="463.24" y="126.56" width="3.3" height="3.5"/><rect x="464.25" y="124.54" width="3.3" height="3.5"/><rect x="465.23" y="122.52" width="3.3" height="3.5"/><rect x="466.20" y="120.53" width="3.3" height="3.5"/><rect x="467.14" y="118.55" width="3.3" height="3.5"/><rect x="468.07" y="116.59" width="3.3" height="3.5"/><rect x="468.99" y="114.65" width="3.3" height="3.5"/><rect x="469.88" y="112.74" width="3.3" height="3.5"/><rect x="470.76" y="110.88" width="3.3" height="3.5"/><rect x="471.63" y="109.04" width="3.3" height="3.5"/><rect x="472.48" y="107.23" width="3.3" height="3.5"/><rect x="473.31" y="105.46" width="3.3" height="3.5"/><rect x="474.13" y="103.73" width="3.3" height="3.5"/><rect x="474.94" y="102.06" width="3.3" height="3.5"/><rect x="475.74" y="100.42" width="3.3" height="3.5"/><rect x="476.52" y="98.81" width="3.3" height="3.5"/><rect x="477.29" y="97.24" width="3.3" height="3.5"/><rect x="478.05" y="95.73" width="3.3" height="3.5"/><rect x="478.80" y="94.28" width="3.3" height="3.5"/><rect x="479.54" y="92.91" width="3.3" height="3.5"/><rect x="480.26" y="91.56" width="3.3" height="3.5"/><rect x="480.98" y="90.29" width="3.3" height="3.5"/><rect x="481.68" y="89.14" width="3.3" height="3.5"/><rect x="482.38" y="88.11" width="3.3" height="3.5"/><rect x="483.06" y="87.17" width="3.3" height="3.5"/><rect x="483.74" y="86.28" width="3.3" height="3.5"/><rect x="484.41" y="85.42" width="3.3" height="3.5"/><rect x="485.07" y="84.59" width="3.3" height="3.5"/><rect x="485.72" y="83.79" width="3.3" height="3.5"/><rect x="486.36" y="83.01" width="3.3" height="3.5"/><rect x="486.99" y="82.26" width="3.3" height="3.5"/><rect x="487.62" y="81.53" width="3.3" height="3.5"/><rect x="488.24" y="80.84" width="3.3" height="3.5"/><rect x="488.85" y="80.16" width="3.3" height="3.5"/><rect x="489.45" y="79.50" width="3.3" height="3.5"/><rect x="490.04" y="78.88" width="3.3" height="3.5"/><rect x="490.63" y="78.27" width="3.3" height="3.5"/><rect x="491.21" y="77.71" width="3.3" height="3.5"/><rect x="491.79" y="77.15" width="3.3" height="3.5"/><rect x="492.36" y="76.64" width="3.3" height="3.5"/><rect x="492.92" y="76.13" width="3.3" height="3.5"/><rect x="493.47" y="75.65" width="3.3" height="3.5"/><rect x="494.02" y="75.17" width="3.3" height="3.5"/><rect x="494.57" y="74.71" width="3.3" height="3.5"/><rect x="495.11" y="74.26" width="3.3" height="3.5"/><rect x="495.64" y="73.81" width="3.3" height="3.5"/><rect x="496.16" y="73.38" width="3.3" height="3.5"/><rect x="496.68" y="72.95" width="3.3" height="3.5"/><rect x="497.20" y="72.52" width="3.3" height="3.5"/><rect x="497.71" y="72.11" width="3.3" height="3.5"/><rect x="498.21" y="71.69" width="3.3" height="3.5"/><rect x="498.71" y="71.28" width="3.3" height="3.5"/><rect x="499.21" y="70.87" width="3.3" height="3.5"/></g>
<polyline points="484.2,89.7 484.8,88.8 485.6,87.8 486.4,86.8 487.3,85.6 488.2,84.5 489.2,83.3 490.3,82.2 491.3,81.1 492.3,80.0 493.4,78.9 494.6,77.9 495.9,76.8 497.1,75.7 498.3,74.7 499.4,73.8 500.3,73.1 501.0,72.5" fill="none" stroke="#1020ff" stroke-width="4.6" stroke-linecap="round"/>
<polyline points="490.3,82.2 491.3,81.1 492.3,80.0 493.4,78.9 494.6,77.9 495.9,76.8 497.1,75.7 498.3,74.7 499.4,73.8 500.3,73.1 501.0,72.5" fill="none" stroke="#1020ff" stroke-width="5.3999999999999995" stroke-linecap="round"/>
<g fill="#fff" stroke="#1020ff" stroke-width="0.85"><rect x="499.21" y="70.87" width="3.3" height="3.5"/></g>
<line x1="298.5" y1="196.5" x2="395" y2="162.3" stroke="#2ea043" stroke-width="1.2"/>
<line x1="298.5" y1="230.7" x2="463.3" y2="170" stroke="#2ea043" stroke-width="1.2"/>
<line x1="373.3" y1="183.3" x2="427.5" y2="41.5" stroke="#f5a623" stroke-width="1.1"/>
<line x1="440" y1="190" x2="487" y2="78.7" stroke="#f5a623" stroke-width="1.1"/>
<line x1="411.7" y1="63.4" x2="457.1" y2="30.3" stroke="#3ba9e0" stroke-width="1.1"/>
<line x1="469.7" y1="101.3" x2="488" y2="85" stroke="#3ba9e0" stroke-width="1.1"/>
</g>
<text x="332.5" y="199.7" font-size="13.7" fill="#3cae50">J</text>
<path d="M353.80,191.89 C351.40,191.71 350.40,192.83 349.00,194.20 C347.60,195.57 346.80,196.60 345.60,196.34 C344.40,196.09 344.20,194.89 344.20,194.20 C344.20,193.51 344.40,192.31 345.60,192.06 C346.80,191.80 347.60,192.83 349.00,194.20 C350.40,195.57 351.40,196.69 353.80,196.51" fill="none" stroke="#3cae50" stroke-width="0.9" opacity="0.7"/>
<text x="359.3" y="199.7" font-size="13.7" fill="#3cae50">V</text>
<text x="445.0" y="68.3" font-size="12.6" fill="#3ba9e0" font-weight="bold">J</text>
<path d="M465.00,61.69 C463.00,61.51 462.17,62.71 461.00,64.20 C459.83,65.69 459.17,66.80 458.17,66.52 C457.17,66.24 457.00,64.94 457.00,64.20 C457.00,63.46 457.17,62.16 458.17,61.88 C459.17,61.60 459.83,62.71 461.00,64.20 C462.17,65.69 463.00,66.89 465.00,66.71" fill="none" stroke="#3ba9e0" stroke-width="1.2" opacity="0.85"/>
<text x="470.5" y="68.3" font-size="12.6" fill="#3ba9e0" font-weight="bold">V<tspan font-size="7.8" dy="-5.0">2</tspan></text>
<line x1="307.8" y1="39.6" x2="320.3" y2="39.6" stroke="#ff0000" stroke-width="1.3"/>
<ellipse cx="314.2" cy="39.6" rx="2.1" ry="3.0" fill="#fff" stroke="#ff1010" stroke-width="0.9"/>
<text x="325.90000000000003" y="43.9" font-size="11.6" fill="#222">Perpendicular</text>
<line x1="307.8" y1="53.8" x2="320.3" y2="53.8" stroke="#0000ff" stroke-width="1.3"/>
<rect x="312.1" y="50.8" width="4.2" height="6.0" fill="#fff" stroke="#1030ff" stroke-width="0.9"/>
<text x="325.90000000000003" y="58.099999999999994" font-size="11.6" fill="#222">Parallel</text>
<text x="309.3" y="71.7" font-size="11.1" fill="#333">EOD</text>
<polygon points="305.8,124.4 362.3,140.5 387.9,117.5 331.4,101.3" fill="#e6e6e6" />
<polygon points="305.8,124.4 362.3,140.5 362.3,147.5 305.8,131.4" fill="#c4c4c4" />
<polygon points="362.3,140.5 387.9,117.5 387.9,124.5 362.3,147.5" fill="#d6d6d6" />
<polyline points="305.8,131.4 362.3,147.5 387.9,124.5 387.9,117.5 362.3,140.5 362.3,147.5" fill="none" stroke="#9a9a9a" stroke-width="0.5"/>
<polyline points="375.2,113.8 387.9,117.5" fill="none" stroke="#a8a8a8" stroke-width="0.5"/>
<polygon points="305.8,98.5 349.6,111.0 349.6,119.4 305.8,106.9" fill="#8c8c8c" />
<polygon points="349.6,111.0 375.5,87.7 375.5,96.1 349.6,119.4" fill="#a6a6a6" />
<polygon points="305.8,106.9 349.6,119.4 349.6,123.1 305.8,110.6" fill="#d9d9d9" />
<polygon points="349.6,119.4 375.5,96.1 375.5,99.8 349.6,123.1" fill="#ffffff" />
<polygon points="305.8,110.6 349.6,123.1 349.6,133.2 305.8,120.7" fill="#d5a20b" />
<polygon points="349.6,123.1 375.5,99.8 375.5,109.9 349.6,133.2" fill="#f6c61a" />
<polygon points="305.8,120.7 349.6,133.2 349.6,136.9 305.8,124.4" fill="#d9d9d9" />
<polygon points="349.6,133.2 375.5,109.9 375.5,113.6 349.6,136.9" fill="#ffffff" />
<polygon points="305.8,98.5 349.6,111.0 375.5,87.7 331.7,75.2" fill="#828282" />
<polyline points="375.5,87.7 331.7,75.2 305.8,98.5 349.6,111.0 375.5,87.7" fill="none" stroke="#4a4a4a" stroke-width="0.7" stroke-linejoin="round"/>
<polyline points="353.4,89.4 353.4,69.5 378.5,69.5 378.5,79.0" fill="none" stroke="#444" stroke-width="0.9"/>
<line x1="376.9" y1="81.39999999999999" x2="380.1" y2="81.39999999999999" stroke="#333" stroke-width="1.5"/>
<line x1="375.0" y1="84.6" x2="382.0" y2="84.6" stroke="#444" stroke-width="0.9"/>
<line x1="378.5" y1="84.6" x2="378.5" y2="120.7" stroke="#777" stroke-width="1"/>
<text transform="matrix(0.84,0.21,-0.16,1,323.6,110.2)" font-size="8.6" fill="none" stroke="#1a1a1a" stroke-width="0.5">Al</text>
<text transform="matrix(0.84,0.21,-0.16,1,322.8,116.4)" font-size="8.8" fill="none" stroke="#1a1a1a" stroke-width="0.5">LiF</text>
<text transform="matrix(0.84,0.21,-0.16,1,321.4,125.0)" font-size="9.6" fill="none" stroke="#1a1a1a" stroke-width="0.5">PVSK</text>
<text transform="matrix(0.84,0.21,-0.16,1,319.9,132.2)" font-size="8.8" fill="none" stroke="#1a1a1a" stroke-width="0.5">LiF</text>
<text transform="matrix(0.84,0.21,-0.16,1,319.0,137.8)" font-size="8.8" fill="none" stroke="#1a1a1a" stroke-width="0.5">ITO</text>
<text x="459.7" y="214" font-size="11.5" fill="#222">J</text>
<path d="M479.50,207.30 C477.10,207.10 476.10,208.40 474.70,210.00 C473.30,211.60 472.50,212.80 471.30,212.50 C470.10,212.20 469.90,210.80 469.90,210.00 C469.90,209.20 470.10,207.80 471.30,207.50 C472.50,207.20 473.30,208.40 474.70,210.00 C476.10,211.60 477.10,212.90 479.50,212.70" fill="none" stroke="#555" stroke-width="0.8" opacity="0.75"/>
<text x="484.2" y="214" font-size="11.5" fill="#222">V<tspan font-size="7.2" dy="-4.6">n</tspan></text>
<line x1="457.59999999999997" y1="225.5" x2="469.79999999999995" y2="225.5" stroke="#2ea043" stroke-width="1.2"/>
<text x="473.9" y="228.8" font-size="9.3" fill="#222">n=1</text>
<line x1="457.59999999999997" y1="234.8" x2="469.79999999999995" y2="234.8" stroke="#f7cf8a" stroke-width="1.2"/>
<text x="473.9" y="238.1" font-size="9.3" fill="#222">n&gt;2</text>
<line x1="457.59999999999997" y1="244.1" x2="469.79999999999995" y2="244.1" stroke="#86c5ee" stroke-width="1.2"/>
<text x="473.9" y="247.4" font-size="9.3" fill="#222">n=2</text>
<line x1="305.8" y1="255.2" x2="305.8" y2="259.09999999999997" stroke="#111" stroke-width="1.1"/>
<text x="305.8" y="265.9" font-size="8.2" fill="#333" text-anchor="middle">5</text>
<line x1="314.9" y1="255.2" x2="314.9" y2="259.09999999999997" stroke="#111" stroke-width="1.1"/>
<text x="314.9" y="265.9" font-size="8.2" fill="#333" text-anchor="middle">6</text>
<line x1="322.6" y1="255.2" x2="322.6" y2="259.09999999999997" stroke="#111" stroke-width="1.1"/>
<text x="322.6" y="265.9" font-size="8.2" fill="#333" text-anchor="middle">7</text>
<line x1="329.2" y1="255.2" x2="329.2" y2="259.09999999999997" stroke="#111" stroke-width="1.1"/>
<text x="329.2" y="265.9" font-size="8.2" fill="#333" text-anchor="middle">8</text>
<line x1="335.1" y1="255.2" x2="335.1" y2="259.09999999999997" stroke="#111" stroke-width="1.1"/>
<text x="335.1" y="265.9" font-size="8.2" fill="#333" text-anchor="middle">9</text>
<line x1="340.3" y1="255.2" x2="340.3" y2="262.5" stroke="#111" stroke-width="1.3"/>
<line x1="374.8" y1="255.2" x2="374.8" y2="259.09999999999997" stroke="#111" stroke-width="1.1"/>
<text x="374.8" y="265.9" font-size="8.2" fill="#333" text-anchor="middle">2</text>
<line x1="394.9" y1="255.2" x2="394.9" y2="259.09999999999997" stroke="#111" stroke-width="1.1"/>
<text x="394.9" y="265.9" font-size="8.2" fill="#333" text-anchor="middle">3</text>
<line x1="409.2" y1="255.2" x2="409.2" y2="259.09999999999997" stroke="#111" stroke-width="1.1"/>
<text x="409.2" y="265.9" font-size="8.2" fill="#333" text-anchor="middle">4</text>
<line x1="420.3" y1="255.2" x2="420.3" y2="259.09999999999997" stroke="#111" stroke-width="1.1"/>
<text x="420.3" y="265.9" font-size="8.2" fill="#333" text-anchor="middle">5</text>
<line x1="429.4" y1="255.2" x2="429.4" y2="259.09999999999997" stroke="#111" stroke-width="1.1"/>
<text x="429.4" y="265.9" font-size="8.2" fill="#333" text-anchor="middle">6</text>
<line x1="437.1" y1="255.2" x2="437.1" y2="259.09999999999997" stroke="#111" stroke-width="1.1"/>
<text x="437.1" y="265.9" font-size="8.2" fill="#333" text-anchor="middle">7</text>
<line x1="443.7" y1="255.2" x2="443.7" y2="259.09999999999997" stroke="#111" stroke-width="1.1"/>
<text x="443.7" y="265.9" font-size="8.2" fill="#333" text-anchor="middle">8</text>
<line x1="449.6" y1="255.2" x2="449.6" y2="259.09999999999997" stroke="#111" stroke-width="1.1"/>
<text x="449.6" y="265.9" font-size="8.2" fill="#333" text-anchor="middle">9</text>
<line x1="345.0" y1="255.2" x2="345.0" y2="257.2" stroke="#111" stroke-width="0.9"/>
<line x1="349.4" y1="255.2" x2="349.4" y2="257.2" stroke="#111" stroke-width="0.9"/>
<line x1="353.3" y1="255.2" x2="353.3" y2="257.2" stroke="#111" stroke-width="0.9"/>
<line x1="357.0" y1="255.2" x2="357.0" y2="257.2" stroke="#111" stroke-width="0.9"/>
<line x1="360.5" y1="255.2" x2="360.5" y2="257.2" stroke="#111" stroke-width="0.9"/>
<line x1="363.7" y1="255.2" x2="363.7" y2="257.2" stroke="#111" stroke-width="0.9"/>
<line x1="366.7" y1="255.2" x2="366.7" y2="257.2" stroke="#111" stroke-width="0.9"/>
<line x1="369.5" y1="255.2" x2="369.5" y2="257.2" stroke="#111" stroke-width="0.9"/>
<line x1="372.2" y1="255.2" x2="372.2" y2="257.2" stroke="#111" stroke-width="0.9"/>
<line x1="379.5" y1="255.2" x2="379.5" y2="257.2" stroke="#111" stroke-width="0.9"/>
<line x1="383.8" y1="255.2" x2="383.8" y2="257.2" stroke="#111" stroke-width="0.9"/>
<line x1="387.8" y1="255.2" x2="387.8" y2="257.2" stroke="#111" stroke-width="0.9"/>
<line x1="391.5" y1="255.2" x2="391.5" y2="257.2" stroke="#111" stroke-width="0.9"/>
<line x1="454.8" y1="255.2" x2="454.8" y2="262.5" stroke="#111" stroke-width="1.3"/>
<line x1="489.3" y1="255.2" x2="489.3" y2="259.09999999999997" stroke="#111" stroke-width="1.1"/>
<text x="489.3" y="265.9" font-size="8.2" fill="#333" text-anchor="middle">2</text>
<line x1="459.5" y1="255.2" x2="459.5" y2="257.2" stroke="#111" stroke-width="0.9"/>
<line x1="463.9" y1="255.2" x2="463.9" y2="257.2" stroke="#111" stroke-width="0.9"/>
<line x1="467.8" y1="255.2" x2="467.8" y2="257.2" stroke="#111" stroke-width="0.9"/>
<line x1="471.5" y1="255.2" x2="471.5" y2="257.2" stroke="#111" stroke-width="0.9"/>
<line x1="475.0" y1="255.2" x2="475.0" y2="257.2" stroke="#111" stroke-width="0.9"/>
<line x1="478.2" y1="255.2" x2="478.2" y2="257.2" stroke="#111" stroke-width="0.9"/>
<line x1="481.2" y1="255.2" x2="481.2" y2="257.2" stroke="#111" stroke-width="0.9"/>
<line x1="484.0" y1="255.2" x2="484.0" y2="257.2" stroke="#111" stroke-width="0.9"/>
<line x1="486.7" y1="255.2" x2="486.7" y2="257.2" stroke="#111" stroke-width="0.9"/>
<line x1="494.0" y1="255.2" x2="494.0" y2="257.2" stroke="#111" stroke-width="0.9"/>
<line x1="498.3" y1="255.2" x2="498.3" y2="257.2" stroke="#111" stroke-width="0.9"/>
<line x1="293.6" y1="251.8" x2="298.5" y2="251.8" stroke="#111" stroke-width="1.3"/>
<line x1="293.6" y1="213.0" x2="298.5" y2="213.0" stroke="#111" stroke-width="1.3"/>
<line x1="293.6" y1="174.2" x2="298.5" y2="174.2" stroke="#111" stroke-width="1.3"/>
<line x1="293.6" y1="135.4" x2="298.5" y2="135.4" stroke="#111" stroke-width="1.3"/>
<line x1="293.6" y1="96.6" x2="298.5" y2="96.6" stroke="#111" stroke-width="1.3"/>
<line x1="293.6" y1="57.8" x2="298.5" y2="57.8" stroke="#111" stroke-width="1.3"/>
<text x="273.4" y="61.6" font-size="10.8" fill="#222">10</text><text x="285.6" y="56.4" font-size="6.6" fill="#444">2</text>
<text x="273.4" y="100.4" font-size="10.8" fill="#222">10</text>
<text x="278.4" y="139.2" font-size="10.8" fill="#222">1</text>
<text x="273.4" y="178.0" font-size="10.8" fill="#222">10</text><text x="285.6" y="172.8" font-size="6.6" fill="#444">&#8208;1</text>
<text x="273.4" y="216.8" font-size="10.8" fill="#222">10</text><text x="285.6" y="211.6" font-size="6.6" fill="#444">&#8208;2</text>
<text x="273.4" y="255.6" font-size="10.8" fill="#222">10</text><text x="285.6" y="250.4" font-size="6.6" fill="#444">&#8208;3</text>
<text x="333.8" y="277.6" font-size="11.2" fill="#222">10</text><text x="346.4" y="270.4" font-size="6.1" fill="#444">4</text>
<text x="448.6" y="277.6" font-size="11.2" fill="#222">10</text><text x="461.8" y="270.4" font-size="6.1" fill="#444">5</text>
<text x="338.1" y="294.2" font-size="14.75" fill="#222">Electric field (V/cm)</text>
<text transform="translate(268.4,230.6) rotate(-90)" font-size="15.3" fill="#222">Current Density (mA/cm<tspan font-size="8.3" dy="-5.6">2</tspan><tspan dy="5.6">)</tspan></text>
<line x1="617.8" y1="28.4" x2="617.8" y2="254" stroke="#8a8a8a" stroke-width="1.5" stroke-dasharray="4 5" stroke-dashoffset="1.4"/>
<rect x="549.6" y="28.4" width="133.39999999999998" height="226.0" fill="none" stroke="#1a1a1a" stroke-width="1.55"/>
<line x1="546.8" y1="254.4" x2="549.6" y2="254.4" stroke="#111" stroke-width="1.1"/>
<line x1="547.8" y1="240.8" x2="549.6" y2="240.8" stroke="#111" stroke-width="0.9"/>
<line x1="547.8" y1="232.8" x2="549.6" y2="232.8" stroke="#111" stroke-width="0.9"/>
<line x1="547.8" y1="227.2" x2="549.6" y2="227.2" stroke="#111" stroke-width="0.9"/>
<line x1="547.8" y1="222.8" x2="549.6" y2="222.8" stroke="#111" stroke-width="0.9"/>
<line x1="547.8" y1="219.2" x2="549.6" y2="219.2" stroke="#111" stroke-width="0.9"/>
<line x1="547.8" y1="216.2" x2="549.6" y2="216.2" stroke="#111" stroke-width="0.9"/>
<line x1="547.8" y1="213.6" x2="549.6" y2="213.6" stroke="#111" stroke-width="0.9"/>
<line x1="547.8" y1="211.3" x2="549.6" y2="211.3" stroke="#111" stroke-width="0.9"/>
<line x1="546.8" y1="209.2" x2="549.6" y2="209.2" stroke="#111" stroke-width="1.1"/>
<line x1="547.8" y1="195.6" x2="549.6" y2="195.6" stroke="#111" stroke-width="0.9"/>
<line x1="547.8" y1="187.6" x2="549.6" y2="187.6" stroke="#111" stroke-width="0.9"/>
<line x1="547.8" y1="182.0" x2="549.6" y2="182.0" stroke="#111" stroke-width="0.9"/>
<line x1="547.8" y1="177.6" x2="549.6" y2="177.6" stroke="#111" stroke-width="0.9"/>
<line x1="547.8" y1="174.0" x2="549.6" y2="174.0" stroke="#111" stroke-width="0.9"/>
<line x1="547.8" y1="171.0" x2="549.6" y2="171.0" stroke="#111" stroke-width="0.9"/>
<line x1="547.8" y1="168.4" x2="549.6" y2="168.4" stroke="#111" stroke-width="0.9"/>
<line x1="547.8" y1="166.1" x2="549.6" y2="166.1" stroke="#111" stroke-width="0.9"/>
<line x1="546.8" y1="164.0" x2="549.6" y2="164.0" stroke="#111" stroke-width="1.1"/>
<line x1="547.8" y1="150.4" x2="549.6" y2="150.4" stroke="#111" stroke-width="0.9"/>
<line x1="547.8" y1="142.4" x2="549.6" y2="142.4" stroke="#111" stroke-width="0.9"/>
<line x1="547.8" y1="136.8" x2="549.6" y2="136.8" stroke="#111" stroke-width="0.9"/>
<line x1="547.8" y1="132.4" x2="549.6" y2="132.4" stroke="#111" stroke-width="0.9"/>
<line x1="547.8" y1="128.8" x2="549.6" y2="128.8" stroke="#111" stroke-width="0.9"/>
<line x1="547.8" y1="125.8" x2="549.6" y2="125.8" stroke="#111" stroke-width="0.9"/>
<line x1="547.8" y1="123.2" x2="549.6" y2="123.2" stroke="#111" stroke-width="0.9"/>
<line x1="547.8" y1="120.9" x2="549.6" y2="120.9" stroke="#111" stroke-width="0.9"/>
<line x1="546.8" y1="118.8" x2="549.6" y2="118.8" stroke="#111" stroke-width="1.1"/>
<line x1="547.8" y1="105.2" x2="549.6" y2="105.2" stroke="#111" stroke-width="0.9"/>
<line x1="547.8" y1="97.2" x2="549.6" y2="97.2" stroke="#111" stroke-width="0.9"/>
<line x1="547.8" y1="91.6" x2="549.6" y2="91.6" stroke="#111" stroke-width="0.9"/>
<line x1="547.8" y1="87.2" x2="549.6" y2="87.2" stroke="#111" stroke-width="0.9"/>
<line x1="547.8" y1="83.6" x2="549.6" y2="83.6" stroke="#111" stroke-width="0.9"/>
<line x1="547.8" y1="80.6" x2="549.6" y2="80.6" stroke="#111" stroke-width="0.9"/>
<line x1="547.8" y1="78.0" x2="549.6" y2="78.0" stroke="#111" stroke-width="0.9"/>
<line x1="547.8" y1="75.7" x2="549.6" y2="75.7" stroke="#111" stroke-width="0.9"/>
<line x1="546.8" y1="73.6" x2="549.6" y2="73.6" stroke="#111" stroke-width="1.1"/>
<line x1="547.8" y1="60.0" x2="549.6" y2="60.0" stroke="#111" stroke-width="0.9"/>
<line x1="547.8" y1="52.0" x2="549.6" y2="52.0" stroke="#111" stroke-width="0.9"/>
<line x1="547.8" y1="46.4" x2="549.6" y2="46.4" stroke="#111" stroke-width="0.9"/>
<line x1="547.8" y1="42.0" x2="549.6" y2="42.0" stroke="#111" stroke-width="0.9"/>
<line x1="547.8" y1="38.4" x2="549.6" y2="38.4" stroke="#111" stroke-width="0.9"/>
<line x1="547.8" y1="35.4" x2="549.6" y2="35.4" stroke="#111" stroke-width="0.9"/>
<line x1="547.8" y1="32.8" x2="549.6" y2="32.8" stroke="#111" stroke-width="0.9"/>
<line x1="547.8" y1="30.5" x2="549.6" y2="30.5" stroke="#111" stroke-width="0.9"/>
<line x1="546.8" y1="28.4" x2="549.6" y2="28.4" stroke="#111" stroke-width="1.1"/>
<text x="525.6" y="256.2" font-size="10.2" fill="#222">10</text><text x="537.4" y="251.6" font-size="6.4" fill="#555">&#8208;7</text>
<text x="525.6" y="211.0" font-size="10.2" fill="#222">10</text><text x="537.4" y="206.4" font-size="6.4" fill="#555">&#8208;6</text>
<text x="525.6" y="165.8" font-size="10.2" fill="#222">10</text><text x="537.4" y="161.2" font-size="6.4" fill="#555">&#8208;5</text>
<text x="525.6" y="120.6" font-size="10.2" fill="#222">10</text><text x="537.4" y="116.0" font-size="6.4" fill="#555">&#8208;4</text>
<text x="525.6" y="75.4" font-size="10.2" fill="#222">10</text><text x="537.4" y="70.8" font-size="6.4" fill="#555">&#8208;3</text>
<text x="525.6" y="30.2" font-size="10.2" fill="#222">10</text><text x="537.4" y="25.6" font-size="6.4" fill="#555">&#8208;2</text>
<line x1="617.8" y1="254.4" x2="617.8" y2="251.5" stroke="#111" stroke-width="0.8"/>
<text x="569.4" y="273" font-size="14.2" fill="#222">EOD</text>
<text x="637.6" y="273" font-size="14.2" fill="#222">HOD</text>
<text transform="translate(523.0,185.3) rotate(-90)" font-size="15" fill="#222">Mobility (cm<tspan font-size="8.3" dy="-5.4">2</tspan><tspan dy="5.4">/Vs)</tspan></text>
<rect x="589.4" y="34.2" width="5.4" height="5.4" fill="#ff6000" stroke="#ff2000" stroke-width="0.8"/>
<circle cx="601.9" cy="36.9" r="2.9" fill="#ff6000" stroke="#ff2000" stroke-width="0.8"/>
<rect x="589.4" y="50.3" width="5.4" height="5.4" fill="#0066cc" stroke="#0030ff" stroke-width="0.8"/>
<circle cx="601.9" cy="53" r="2.9" fill="#0066cc" stroke="#0030ff" stroke-width="0.8"/>
<text x="608.2" y="40.6" font-size="11.4" fill="#222">Perpendicular</text>
<text x="608.2" y="56.7" font-size="11.4" fill="#222">Parallel</text>
<rect x="567.3" y="86.9" width="12.2" height="12.4" fill="#ff6600" stroke="#ff0000" stroke-width="1.1"/>
<rect x="592.5" y="94.5" width="12.3" height="12.4" fill="#0066bb" stroke="#0000ff" stroke-width="1.1"/>
<circle cx="640.4" cy="113.2" r="6.8" fill="#ff6600" stroke="#ff1a1a" stroke-width="1.1"/>
<circle cx="662.5" cy="210.1" r="7.0" fill="#0066bb" stroke="#0000ff" stroke-width="1.1"/>
<text x="555.6" y="81" font-size="11" fill="#222">3.82<tspan font-weight="bold" font-size="10.4">×</tspan>10<tspan font-size="6" dx="1.3" dy="-5" fill="#555">&#8208;4</tspan></text>
<text x="569.6" y="122.3" font-size="11" fill="#222">2.63<tspan font-weight="bold" font-size="10.4">×</tspan>10<tspan font-size="6" dx="1.3" dy="-5" fill="#555">&#8208;4</tspan></text>
<text x="623.3" y="99.6" font-size="11" fill="#222">1.37<tspan font-weight="bold" font-size="10.4">×</tspan>10<tspan font-size="6" dx="1.3" dy="-5" fill="#555">&#8208;4</tspan></text>
<text x="632.9" y="196" font-size="11" fill="#222">9.96<tspan font-weight="bold" font-size="10.4">×</tspan>10<tspan font-size="6" dx="1.3" dy="-5" fill="#555">&#8208;7</tspan></text>
</svg></body></html>
